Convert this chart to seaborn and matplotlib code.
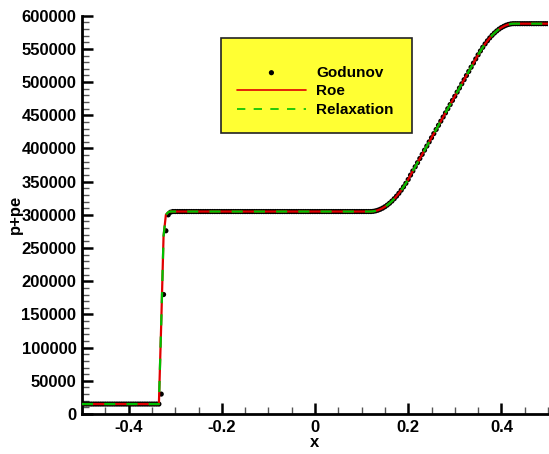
import numpy as np
import pandas as pd
import matplotlib
matplotlib.use("Agg")
import matplotlib.pyplot as plt
from matplotlib.ticker import MultipleLocator, FormatStrFormatter
import seaborn as sns

# ---------------- data ----------------
x_grid = np.round(np.linspace(-0.5, 0.5, 201), 4)

left_state = [15000] * 34
plateau = [305000] * 86
rise_knee = [305300, 306000, 307000, 308400, 310100, 312200, 314700, 317500,
             320700, 324300, 328200, 332500, 337200, 342200, 347500, 353300]
rise_linear = [359900, 366100, 372400, 378600, 384900, 391100, 397400, 403600,
               409900, 416100, 422400, 428600, 434900, 441100, 447400, 453600,
               459900, 466100, 472400, 478600, 484900, 491100, 497400, 503600,
               509900, 516100, 522400, 528600, 534900]
rise_top = [541100, 546900, 552400, 557500, 562200, 566500, 570400, 573900,
            577000, 579800, 582100, 584000, 585600, 586800, 587600]
right_state = [588000] * 16

godunov_jump = [30000, 180000, 276000, 300000, 304000]
roe_jump = [136000, 268000, 300000, 304000, 305000]
relax_jump = [136000, 268000, 300000, 304000, 305000]

godunov = left_state + godunov_jump + plateau + rise_knee + rise_linear + rise_top + right_state
roe = left_state + roe_jump + plateau + rise_knee + rise_linear + rise_top + right_state
relaxation = left_state + relax_jump + plateau + rise_knee + rise_linear + rise_top + right_state

df = pd.DataFrame({"x": x_grid, "Godunov": godunov, "Roe": roe, "Relaxation": relaxation})

x_ticks = [-0.4, -0.2, 0, 0.2, 0.4]
y_ticks = list(range(0, 600001, 50000))

# ---------------- plot ----------------
sns.set_style("ticks")
plt.rcParams["font.family"] = ["Liberation Sans", "DejaVu Sans"]
plt.rcParams["font.weight"] = "bold"
for key in ["text.color", "axes.labelcolor", "xtick.color", "ytick.color"]:
    plt.rcParams[key] = "black"

fig = plt.figure(figsize=(5.49, 4.54), dpi=100)
ax = fig.add_axes([82 / 549, 1 - 414 / 454, 466 / 549, (414 - 15.7) / 454])

sns.scatterplot(data=df, x="x", y="Godunov", ax=ax, color="black", s=14,
                edgecolor="none", label="Godunov", zorder=2)
sns.lineplot(data=df, x="x", y="Roe", ax=ax, color="#e00000", lw=1.6,
             label="Roe", zorder=3)
sns.lineplot(data=df, x="x", y="Relaxation", ax=ax, color="#00c000", lw=1.6,
             dashes=(5, 5), label="Relaxation", zorder=4)

ax.set_xlim(-0.5, 0.5)
ax.set_ylim(0, 600000)
ax.set_xticks(x_ticks)
ax.set_yticks(y_ticks)
ax.xaxis.set_major_formatter(FormatStrFormatter("%g"))
ax.yaxis.set_major_formatter(FormatStrFormatter("%d"))
ax.xaxis.set_minor_locator(MultipleLocator(0.05))
ax.yaxis.set_minor_locator(MultipleLocator(10000))

for side in ["top", "right"]:
    ax.spines[side].set_visible(False)
for side in ["left", "bottom"]:
    ax.spines[side].set_linewidth(2)
    ax.spines[side].set_color("black")

ax.tick_params(which="major", direction="in", length=8, width=1.8, labelsize=12,
               color="black", labelcolor="black", pad=4)
ax.tick_params(which="minor", direction="in", length=5, width=1.0, color="#555555")
for lab in ax.get_xticklabels() + ax.get_yticklabels():
    lab.set_fontweight("bold")

ax.set_xlabel("x", fontsize=12, fontweight="bold", labelpad=0, color="black")
ax.set_ylabel("p+pe", fontsize=12, fontweight="bold", labelpad=-1, color="black")

leg = ax.legend(loc="center left",
                bbox_to_anchor=(221 / 549, 1 - 130 / 454, (412 - 221) / 549, (130 - 41) / 454),
                bbox_transform=fig.transFigure, mode="expand", borderaxespad=0,
                frameon=True, fancybox=False, shadow=False, borderpad=1.05,
                labelspacing=0.3, handlelength=4.5, handletextpad=0.7,
                title=" ", title_fontsize=6,
                prop={"weight": "bold", "size": 11})
frame = leg.get_frame()
frame.set_facecolor("#ffff33")
frame.set_edgecolor("#222222")
frame.set_linewidth(1.2)
frame.set_alpha(1)
for t in leg.get_texts():
    t.set_color("black")
for h in leg.legend_handles:
    if hasattr(h, "set_linewidth"):
        try:
            h.set_linewidth(1.2)
        except Exception:
            pass

fig.savefig("out.png", dpi=100)
